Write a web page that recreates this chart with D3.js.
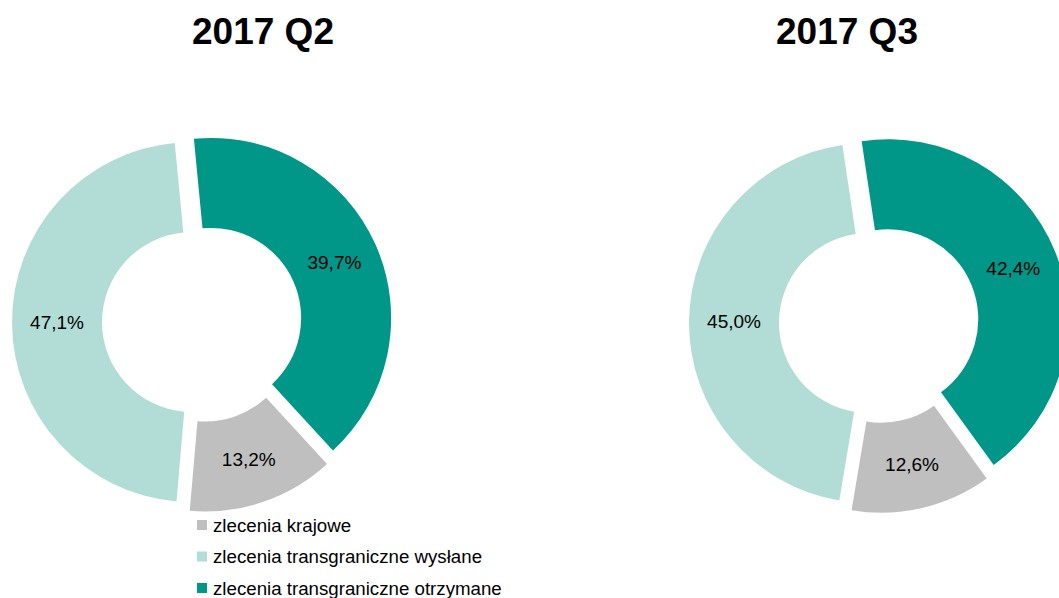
<!DOCTYPE html>
<html>
<head>
<meta charset="utf-8">
<script src="https://cdn.jsdelivr.net/npm/d3@7/dist/d3.min.js"></script>
<style>
  html, body { margin: 0; padding: 0; background: #fff; }
  svg { display: block; font-family: "Liberation Sans", Arial, sans-serif; }
</style>
</head>
<body>
<svg id="chart" width="1059" height="598"></svg>
<script>
// ---- data ----
const categories = ["zlecenia krajowe", "zlecenia transgraniczne wysłane", "zlecenia transgraniczne otrzymane"];
const periods = ["2017 Q2", "2017 Q3"];
const valuesQ2 = [13.2, 47.1, 39.7];
const valuesQ3 = [12.6, 45.0, 42.4];
const colors = ["#bfbfbf", "#b2ddd7", "#009688"];
// drawing order clockwise from the top: otrzymane, krajowe, wysłane
const sliceOrder = [2, 0, 1];

// ---- layout ----
const svg = d3.select("#chart");
const charts = [
  { title: periods[0], values: valuesQ2, cx: 202, cy: 322, titleX: 263, start: -5.5 },
  { title: periods[1], values: valuesQ3, cx: 879, cy: 323, titleX: 847, start: -8.5 }
];
const outerR = 180, innerR = 90, explode = 10;
const fmt = d3.formatLocale({ decimal: ",", thousands: " ", grouping: [3], currency: ["", " zł"] }).format(".1f");

charts.forEach(c => {
  svg.append("text")
    .attr("x", c.titleX).attr("y", 44)
    .attr("text-anchor", "middle")
    .attr("font-size", 37).attr("font-weight", "bold").attr("fill", "#000")
    .text(c.title);

  const rad = c.start * Math.PI / 180;
  const pie = d3.pie().sort(null).value(i => c.values[i])
    .startAngle(rad).endAngle(rad + 2 * Math.PI);
  const arcs = pie(sliceOrder);
  const arc = d3.arc().innerRadius(innerR).outerRadius(outerR);
  const labelArc = d3.arc().innerRadius((innerR + outerR) / 2).outerRadius((innerR + outerR) / 2);

  const g = svg.append("g").attr("transform", `translate(${c.cx},${c.cy})`);
  const slices = g.selectAll("g.slice").data(arcs).join("g")
    .attr("class", "slice")
    .attr("transform", d => {
      const m = (d.startAngle + d.endAngle) / 2;
      return `translate(${explode * Math.sin(m)},${-explode * Math.cos(m)})`;
    });
  slices.append("path")
    .attr("d", arc)
    .attr("fill", d => colors[d.data]);
  slices.append("text")
    .attr("transform", d => `translate(${labelArc.centroid(d)})`)
    .attr("text-anchor", "middle")
    .attr("dominant-baseline", "central")
    .attr("font-size", 19).attr("fill", "#000")
    .text(d => fmt(c.values[d.data]) + "%");
});

// ---- legend ----
const legend = svg.append("g");
const legendY = d3.scalePoint().domain(categories).range([525, 588]);
categories.forEach((name, i) => {
  const y = legendY(name);
  legend.append("rect")
    .attr("x", 197).attr("y", y - 5).attr("width", 10).attr("height", 10)
    .attr("fill", colors[i]);
  legend.append("text")
    .attr("x", 213).attr("y", y)
    .attr("dominant-baseline", "central")
    .attr("font-size", 18.7).attr("fill", "#000")
    .text(name);
});
</script>
</body>
</html>
